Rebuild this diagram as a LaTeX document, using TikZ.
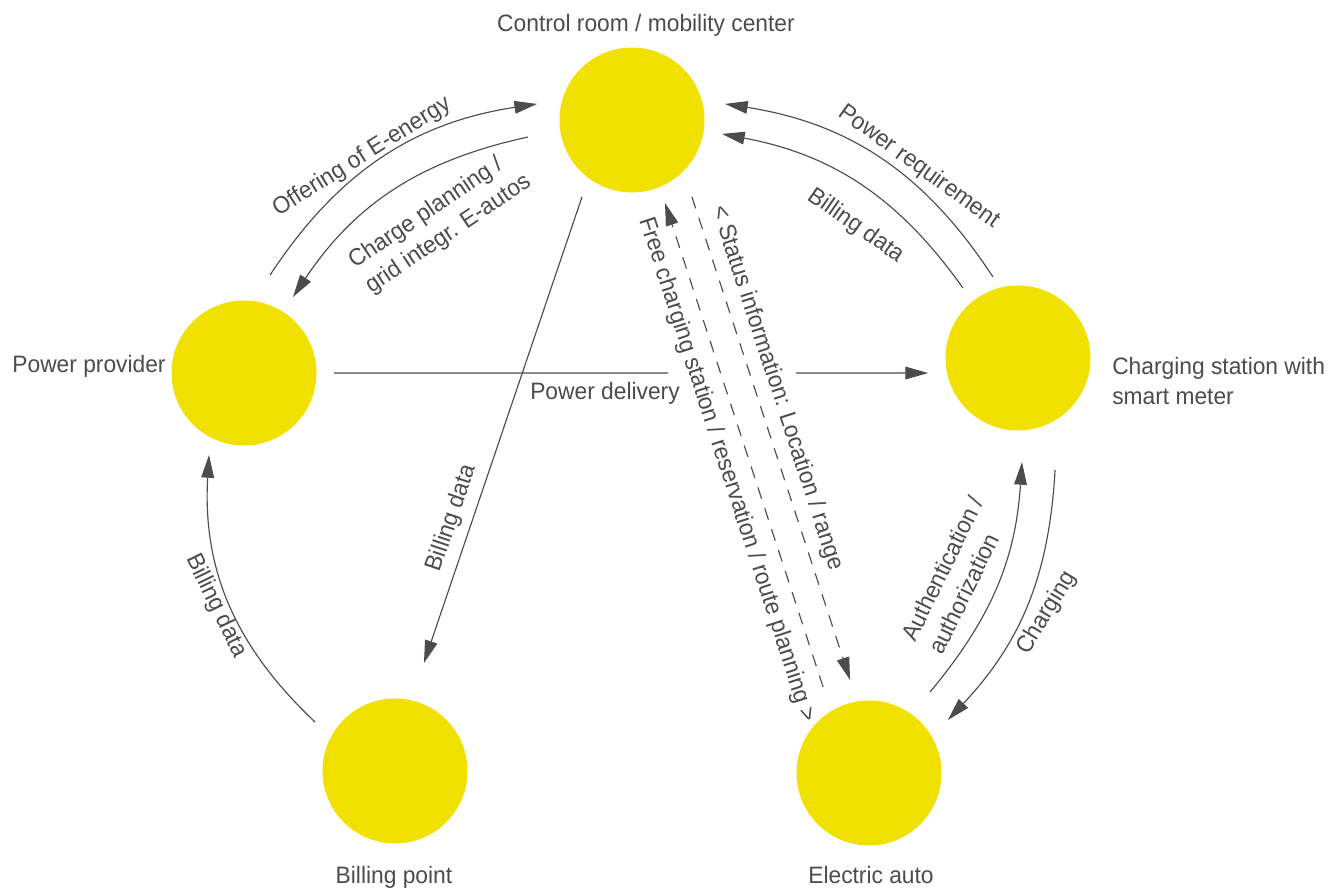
\documentclass[tikz,border=0pt]{standalone}
\usepackage{fontspec}
\setmainfont{Liberation Sans}[FakeStretch=0.96]
\usetikzlibrary{arrows.meta}
\definecolor{yel}{HTML}{F0E100}
\definecolor{ink}{HTML}{4B4B50}
\begin{document}
\begin{tikzpicture}[x=0.75pt,y=0.75pt,
  every node/.style={text=ink, font=\fontsize{17.8pt}{22.5pt}\selectfont, inner sep=0pt},
  dot/.style={circle, fill=yel, minimum size=108.75pt, inner sep=0pt},
  conn/.style={draw=ink, line width=0.85pt, -{Triangle[length=17pt,width=9.5pt]}},
  dashconn/.style={conn, dash pattern=on 9pt off 7.5pt}]
\path[use as bounding box] (0,0) rectangle (1338,891);

% circles
\node[dot] (cr) at (632,771) {};
\node[dot] (pp) at (244,518) {};
\node[dot] (cs) at (1018,533) {};
\node[dot] (bp) at (395,120) {};
\node[dot] (ea) at (869,118) {};

% node labels
\node[anchor=base] (crl) at (646,859) {Control room / mobility center};
\node[anchor=base] (ppl) at (89,518) {Power provider};
\node[anchor=west, align=left] (csl) at (1112,510) {Charging station with\\smart meter};
\node[anchor=base] (bpl) at (394,7) {Billing point};
\node[anchor=base] (eal) at (871,7) {Electric auto};

% curved connectors
\draw[conn] ([shift={(75.1:101.4)}]pp.center) to[bend left=24] ([shift={(170.4:96.3)}]cr.center);
\draw[conn] ([shift={(189.3:105.4)}]cr.center) to[bend right=22] ([shift={(57.2:90.4)}]pp.center);
\draw[conn] ([shift={(107.2:84.8)}]cs.center) to[bend right=24] ([shift={(9.8:94.4)}]cr.center);
\draw[conn] ([shift={(128.2:89)}]cs.center) to[bend right=22] ([shift={(-8.8:91.1)}]cr.center);
\draw[conn] ([shift={(53:101.4)}]ea.center) to[bend right=18] ([shift={(-87.8:104.1)}]cs.center);
\draw[conn] ([shift={(-71.7:118)}]cs.center) to[bend left=20] ([shift={(33.9:95.1)}]ea.center);
\draw[conn] ([shift={(148.5:93.8)}]bp.center) to[bend left=25] ([shift={(-113.1:89.2)}]pp.center);

% straight connectors
\draw[conn] ([shift={(-123:91.8)}]cr.center) -- ([shift={(75:111.8)}]bp.center);
\coordinate (g1) at (668,518);
\coordinate (g2) at (796,518);
\draw[conn] ([shift={(0:90)}]pp.center) -- (g1) (g2) -- ([shift={(189.5:91.2)}]cs.center);

% dashed connectors
\draw[dashconn] ([shift={(118.1:97.5)}]ea.center) -- ([shift={(-68.3:89.3)}]cr.center);
\draw[dashconn] ([shift={(-52.1:97.6)}]cr.center) -- ([shift={(101.5:94.9)}]ea.center);

% connector labels
\node[rotate=32] (t1) at (362,734) {Offering of E-energy};
\node[rotate=34, align=left] (t2) at (440,669) {Charge planning /\\grid integr. E-autos};
\node[rotate=-36] (t3) at (919,724) {Power requirement};
\node[rotate=-35] (t4) at (856,665) {Billing data};
\node[rotate=-72] (t5) at (777,503) {< Status information: Location / range};
\node[rotate=-72] (t6) at (727,421) {Free charging station / reservation / route planning >};
\node[rotate=71.3] (t7) at (452,373) {Billing data};
\node[rotate=-64] (t8) at (216,285) {Billing data};
\node[rotate=64, align=left] (t9) at (956,316) {Authentication /\\authorization};
\node[rotate=59] (t10) at (1047,278) {Charging};
\node[anchor=base] (t11) at (605,491) {Power delivery};
\end{tikzpicture}
\end{document}
